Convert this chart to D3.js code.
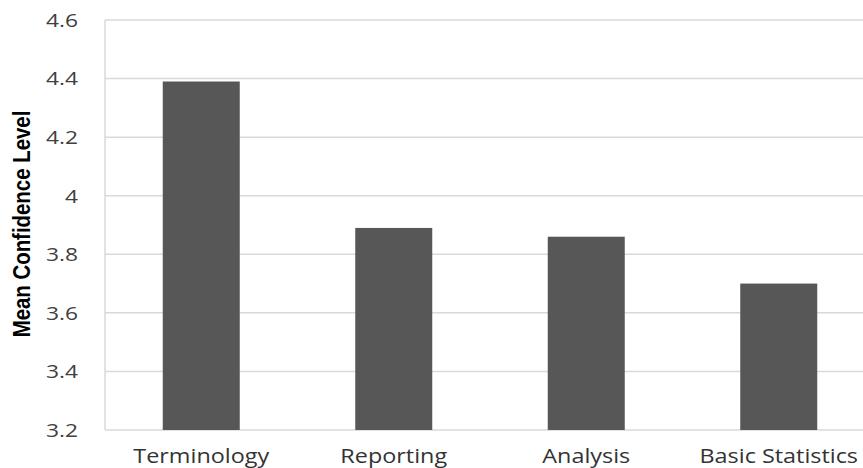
<!DOCTYPE html>
<html><head><meta charset="utf-8">
<script src="https://cdn.jsdelivr.net/npm/d3@7"></script>
<style>body{margin:0;background:#fff;}svg{display:block;}</style>
</head><body>
<script>
const categories = ["Terminology", "Reporting", "Analysis", "Basic Statistics"];
const values = [4.39, 3.89, 3.86, 3.70];
const yTicks = [3.2, 3.4, 3.6, 3.8, 4, 4.2, 4.4, 4.6];
const yTitle = "Mean Confidence Level";

const W = 863, H = 468;
const m = {left: 105, top: 20, bottom: 38};
const svg = d3.select("body").append("svg").attr("width", W).attr("height", H);

const x = d3.scaleBand().domain(categories).range([m.left, m.left + 770]).paddingInner(0.6).paddingOuter(0.3);
const y = d3.scaleLinear().domain([3.2, 4.6]).range([H - m.bottom, m.top]);

// gridlines
svg.append("g").selectAll("line").data(yTicks).join("line")
  .attr("x1", m.left).attr("x2", W).attr("y1", d => y(d)).attr("y2", d => y(d))
  .attr("stroke", "#d9d9d9").attr("stroke-width", 1.5);

// left axis line
svg.append("line").attr("x1", m.left).attr("x2", m.left).attr("y1", y(4.6)).attr("y2", y(3.2))
  .attr("stroke", "#d9d9d9").attr("stroke-width", 1.5);

// bars
svg.append("g").selectAll("rect").data(categories).join("rect")
  .attr("x", d => x(d)).attr("width", x.bandwidth())
  .attr("y", (d, i) => y(values[i])).attr("height", (d, i) => y(3.2) - y(values[i]))
  .attr("fill", "#575757");

// y tick labels
svg.append("g").selectAll("text").data(yTicks).join("text")
  .attr("transform", d => `translate(78,${y(d)}) scale(1.2,1)`).attr("dy", "0.36em")
  .attr("text-anchor", "end").attr("font-family", "'Open Sans', sans-serif").attr("font-size", 19)
  .attr("fill", "#404040").text(d => d);

// x labels
svg.append("g").selectAll("text").data(categories).join("text")
  .attr("transform", d => `translate(${x(d) + x.bandwidth() / 2},463) scale(1.17,1)`)
  .attr("text-anchor", "middle").attr("font-family", "'Open Sans', sans-serif").attr("font-size", 20)
  .attr("fill", "#333").text(d => d);

// y title (condensed bold)
svg.append("text").attr("transform", `translate(30,224) rotate(-90) scale(0.85,1)`)
  .attr("text-anchor", "middle").attr("font-family", "'Liberation Sans', Arial, sans-serif")
  .attr("font-weight", "bold").attr("font-size", 24).attr("fill", "#000").text(yTitle);
</script>
</body></html>
